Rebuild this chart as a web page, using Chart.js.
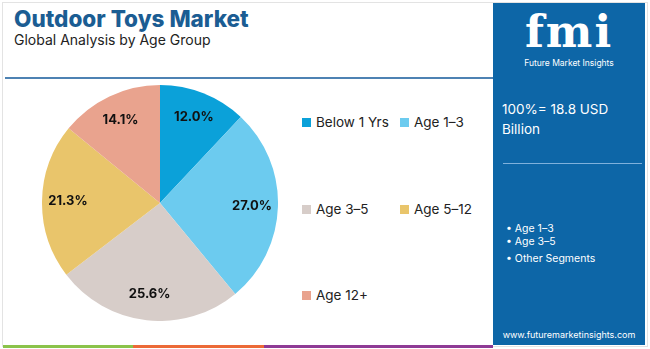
<!DOCTYPE html>
<html>
<head>
<meta charset="utf-8">
<script src="https://cdn.jsdelivr.net/npm/chart.js@4.4.0/dist/chart.umd.min.js"></script>
<style>
    html, body { margin: 0; padding: 0; }
    body { width: 650px; height: 349px; position: relative; background: #fff; font-family: Inter, "Open Sans", sans-serif; overflow: hidden; }
    #frame { position: absolute; left: 2px; top: 2px; width: 644px; height: 343px; border: 1px solid #e3e3e3; }
    #title { position: absolute; left: 14px; top: 5px; font-size: 22.5px; font-weight: 800; color: #1b5d93; }
    #subtitle { position: absolute; left: 14px; top: 31px; font-size: 14px; color: #222; }
    #rule { position: absolute; left: 5px; top: 77px; width: 488px; height: 2px; background: #4d82b3; }
    #chartBox { position: absolute; left: 42px; top: 85px; width: 236px; height: 236px; }
    #legend { position: absolute; left: 302px; top: 0; }
    .item { position: absolute; white-space: nowrap; font-size: 13.5px; color: #222; }
    .item span { display: inline-block; width: 9px; height: 9px; margin-right: 5px; vertical-align: 0px; }
    #panel { position: absolute; left: 493px; top: 3px; width: 152px; height: 342px; background: #0d66a7; color: #fff; }
    #logo { position: absolute; left: 0; top: 4px; width: 152px; text-align: center; font-family: "DejaVu Serif", serif; font-weight: bold; font-size: 44px; letter-spacing: 2px; line-height: 50px; }
    #logoSub { position: absolute; left: 0; top: 55px; width: 152px; text-align: center; font-size: 8.5px; }
    #size { position: absolute; left: 9px; top: 96px; font-size: 13.5px; line-height: 20px; }
    #prule { position: absolute; left: 10px; top: 160px; width: 139px; height: 1px; background: #7fb1dc; }
    #bullets { position: absolute; left: 13px; top: 219px; font-size: 10.5px; line-height: 13px; }
    #url { position: absolute; left: 0; top: 326px; width: 152px; text-align: center; font-size: 9px; }
    .stripe { position: absolute; top: 345px; height: 3px; }
</style>
</head>
<body>
<div id="frame"></div>
<div id="title">Outdoor Toys Market</div>
<div id="subtitle">Global Analysis by Age Group</div>
<div id="rule"></div>
<div id="chartBox"><canvas id="pie"></canvas></div>
<div id="legend"></div>
<div id="panel">
    <div id="logo">fmi</div>
    <div id="logoSub">Future Market Insights</div>
    <div id="size">100%= 18.8 USD<br>Billion</div>
    <div id="prule"></div>
    <div id="bullets">&bull; Age 1&ndash;3<br>&bull; Age 3&ndash;5<br><div style="margin-top:4px">&bull; Other Segments</div></div>
    <div id="url">www.futuremarketinsights.com</div>
</div>
<div class="stripe" style="left:3px;width:130px;background:#8bc34a"></div>
<div class="stripe" style="left:133px;width:131px;background:#ec6a37"></div>
<div class="stripe" style="left:264px;width:229px;background:#8e3a95"></div>
<script>
const labels = ['Below 1 Yrs', 'Age 1–3', 'Age 3–5', 'Age 5–12', 'Age 12+'];
const shares = [12.0, 27.0, 25.6, 21.3, 14.1];
const colors = ['#0ba1d9', '#6ccbef', '#d7cdc9', '#e9c56b', '#e9a38e'];
// legend slots (left, top) in the layout grid
const legendPos = [[0, 114], [98, 114], [0, 201], [98, 201], [0, 287]];

const legend = document.getElementById('legend');
labels.forEach(function(l, i) {
    const d = document.createElement('div');
    d.className = 'item';
    d.style.left = legendPos[i][0] + 'px';
    d.style.top = legendPos[i][1] + 'px';
    d.innerHTML = '<span style="background:' + colors[i] + '"></span>' + l;
    legend.appendChild(d);
});

const sliceLabels = {
    id: 'sliceLabels',
    afterDatasetsDraw(chart) {
        const ctx = chart.ctx;
        const meta = chart.getDatasetMeta(0);
        ctx.save();
        ctx.font = 'bold 13px Inter, "Open Sans", sans-serif';
        ctx.fillStyle = '#111';
        ctx.textAlign = 'center';
        ctx.textBaseline = 'middle';
        meta.data.forEach(function(arc, i) {
            const p = arc.getProps(['x', 'y', 'startAngle', 'endAngle', 'outerRadius'], true);
            const a = (p.startAngle + p.endAngle) / 2;
            const r = p.outerRadius * 0.78;
            ctx.fillText(shares[i].toFixed(1) + '%', p.x + Math.cos(a) * r, p.y + Math.sin(a) * r);
        });
        ctx.restore();
    }
};

new Chart(document.getElementById('pie'), {
    type: 'pie',
    data: {
        labels: labels,
        datasets: [{ data: shares, backgroundColor: colors, borderWidth: 0 }]
    },
    options: {
        responsive: true,
        maintainAspectRatio: false,
        animation: false,
        layout: { padding: 0 },
        plugins: { legend: { display: false }, tooltip: { enabled: false } }
    },
    plugins: [sliceLabels]
});
</script>
</body>
</html>
